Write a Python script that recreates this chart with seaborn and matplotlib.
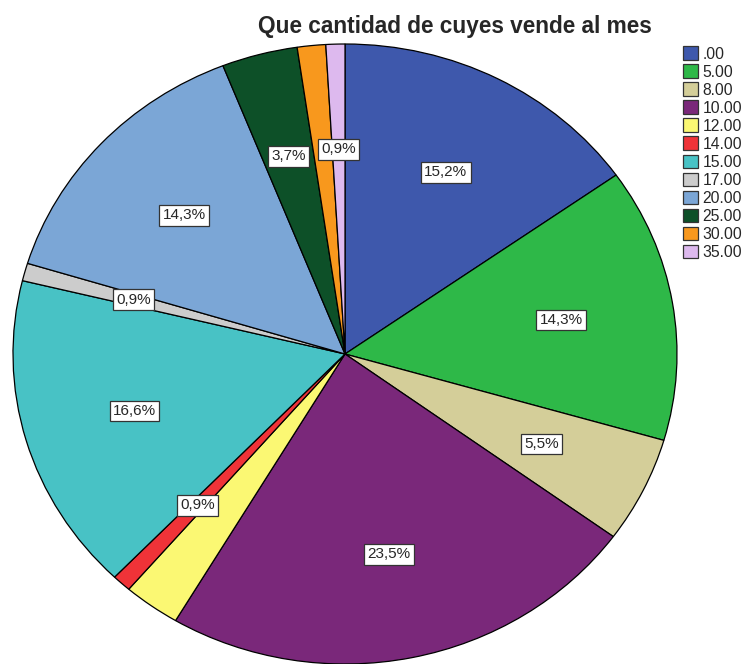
import matplotlib
matplotlib.use("Agg")
import matplotlib.pyplot as plt
import seaborn as sns

# Data (counts out of 217)
categories = ['.00', '5.00', '8.00', '10.00', '12.00', '14.00',
              '15.00', '17.00', '20.00', '25.00', '30.00', '35.00']
counts = [33, 31, 12, 51, 6, 2, 36, 2, 31, 8, 3, 2]
shown = ['.00', '5.00', '8.00', '10.00', '14.00', '15.00',
         '17.00', '20.00', '25.00', '35.00']
colors = ['#3e58ac', '#2eb848', '#d4ce99', '#7a287a', '#fbf873', '#ef3338',
          '#48c2c5', '#cccccc', '#7ba6d6', '#0d5028', '#f8981d', '#ddb9ee']

sns.set_style("white")
plt.rcParams['font.family'] = ['Liberation Sans', 'DejaVu Sans']
palette = sns.color_palette(colors)

total = sum(counts)


def fmt(cat, n):
    if cat not in shown:
        return ''
    return f'{100 * n / total:.1f}%'.replace('.', ',')


fig = plt.figure(figsize=(7.45, 6.64), dpi=100)
# pie is an ellipse in the reference, so the axes is stretched
ax = fig.add_axes([13 / 745, 0.0, 664 / 745, 620 / 664])
wedges, texts = ax.pie(counts, colors=palette, startangle=90, counterclock=False,
                       labels=[fmt(c, n) for c, n in zip(categories, counts)],
                       labeldistance=0.66,
                       wedgeprops=dict(edgecolor='black', linewidth=0.9))
for t in texts:
    t.set_ha('center')
    t.set_va('center')
    t.set_fontsize(11)
    if t.get_text():
        t.set_bbox(dict(boxstyle='square,pad=0.22', fc='white', ec='#333333', lw=0.9))
for w in wedges:
    w.set_clip_on(False)
ax.set_aspect('auto')
ax.set_xlim(-1, 1)
ax.set_ylim(-1, 1)

fig.text(0.611, 0.96, 'Que cantidad de cuyes vende al mes',
         ha='center', va='center', fontsize=16.3, fontweight='bold')

leg = fig.legend(wedges, categories, loc='upper left', bbox_to_anchor=(0.917, 0.93),
                 frameon=False, fontsize=11.3, handlelength=0.92, handleheight=0.92,
                 handletextpad=0.3, labelspacing=0.19, borderaxespad=0, borderpad=0)
for h in leg.legend_handles:
    h.set_edgecolor('#333333')
    h.set_linewidth(0.9)

fig.savefig('out.png', dpi=100)
